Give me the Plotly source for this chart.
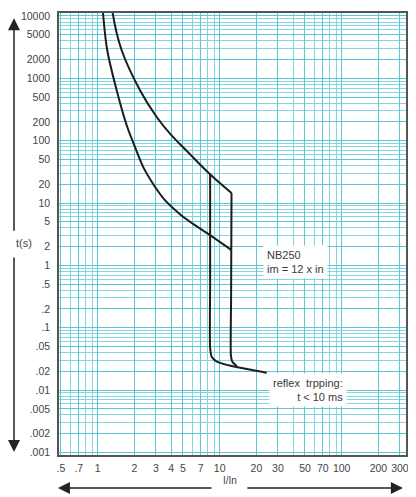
import plotly.graph_objects as go

# ---- data ----
x_tick_vals = [0.5, 0.7, 1, 2, 3, 4, 5, 7, 10, 20, 30, 50, 70, 100, 200, 300]
x_tick_text = [".5", ".7", "1", "2", "3", "4", "5", "7", "10", "20", "30", "50", "70", "100", "200", "300"]
y_tick_vals = [10000, 5000, 2000, 1000, 500, 200, 100, 50, 20, 10, 5, 2, 1,
               0.5, 0.2, 0.1, 0.05, 0.02, 0.01, 0.005, 0.002, 0.001]
y_tick_text = ["10000", "5000", "2000", "1000", "500", "200", "100", "50", "20", "10", "5", "2", "1",
               ".5", ".2", ".1", ".05", ".02", ".01", ".005", ".002", ".001"]

# lower thermal curve
low_I = [1.091, 1.105, 1.198, 1.431, 1.729, 2.021, 2.364, 2.856, 3.561, 4.727, 6.273, 8.33, 12.5]
low_t = [14830, 11170, 2818, 644, 177, 79.4, 37.6, 20.06, 11.11, 6.63, 4.416, 3.05, 1.755]
# upper thermal curve
up_I = [1.31, 1.327, 1.573, 2.222, 3.045, 3.914, 5.71, 8.33, 12.5]
up_t = [14830, 11170, 2818, 644, 240, 130, 60.7, 29.0, 14.5]
# right magnetic limit
right_I = [12.5, 12.4, 12.35, 12.7, 13.8]
right_t = [14.5, 0.3, 0.0365, 0.0284, 0.0243]
# left magnetic limit + reflex tail
left_I = [8.35, 8.35, 8.35, 8.60, 9.33, 10.38, 13.35, 24.28]
left_t = [29.0, 0.5, 0.0471, 0.0342, 0.0292, 0.0268, 0.02366, 0.01896]

# grid
x_minor = [d * m for d in (0.1, 1, 10, 100) for m in range(1, 10)]
x_minor = [v for v in x_minor if 0.45 <= v <= 340]
y_minor = [d * m for d in (0.001, 0.01, 0.1, 1, 10, 100, 1000, 10000) for m in range(1, 10)]

LINE = "#1c1c1c"
fig = go.Figure()
for xs, ys, sm in [(low_I, low_t, 1.0), (up_I, up_t, 1.0),
                   (right_I, right_t, 0.5), (left_I, left_t, 0.6)]:
    fig.add_trace(go.Scatter(x=xs, y=ys, mode="lines",
                             line=dict(color=LINE, width=2, shape="spline", smoothing=sm),
                             hoverinfo="skip", showlegend=False))

tickfont = dict(family="Liberation Sans, Arial, sans-serif", size=10.5, color="#444")
# the page body adds an 8px offset, so the figure is laid out 8px smaller
fig.update_layout(
    width=408, height=489, autosize=False,
    margin=dict(l=51, r=10, t=5, b=42),
    paper_bgcolor="white", plot_bgcolor="white",
    font=dict(family="Liberation Sans, Arial, sans-serif", color="#444"),
    xaxis=dict(type="log", range=[-0.317, 2.527],
               tickvals=x_tick_vals, ticktext=x_tick_text, tickfont=tickfont,
               ticks="", ticklabelstandoff=3, automargin=False,
               showgrid=True, gridcolor="#5cc6d4", gridwidth=1,
               minor=dict(tickvals=x_minor, showgrid=True, gridcolor="#86d6e0", gridwidth=1, ticks=""),
               showline=True, mirror=True, linecolor="#555", linewidth=1.5, zeroline=False),
    yaxis=dict(type="log", range=[-3.041, 4.048],
               tickvals=y_tick_vals, ticktext=y_tick_text, tickfont=tickfont,
               ticks="", ticklabelstandoff=5, automargin=False,
               showgrid=True, gridcolor="#5cc6d4", gridwidth=1,
               minor=dict(tickvals=y_minor, showgrid=True, gridcolor="#86d6e0", gridwidth=1, ticks=""),
               showline=True, mirror=True, linecolor="#555", linewidth=1.5, zeroline=False),
)

afont = dict(family="Liberation Sans, Arial, sans-serif", size=11, color="#3a3a3a")
anns = [
    dict(x=0.588, y=0.436, xref="paper", yref="paper", text="NB250<br>im = 12 x in",
         xanchor="left", yanchor="middle", align="left", showarrow=False,
         bgcolor="white", borderpad=3, font=afont),
    dict(x=0.830, y=0.147, xref="paper", yref="paper",
         text="reflex\u00a0 trpping:<br>t &lt; 10 ms",
         xanchor="right", yanchor="middle", align="right", showarrow=False,
         bgcolor="white", borderpad=3, font=afont),
    dict(x=-0.1297, y=0.479, xref="paper", yref="paper", text="t(s)", showarrow=False,
         font=dict(family="Liberation Sans, Arial, sans-serif", size=11, color="#444")),
    dict(x=0.493, y=-0.0746, xref="paper", yref="paper", text="I/In", showarrow=False,
         font=dict(family="Liberation Sans, Arial, sans-serif", size=10, color="#444")),
    # axis arrows
    dict(x=-0.1297, y=0.988, xref="paper", yref="paper", text="", showarrow=True,
         ax=0, ay=214, arrowhead=2, arrowsize=1.6, arrowwidth=1.5, arrowcolor="#222"),
    dict(x=-0.1297, y=0.0068, xref="paper", yref="paper", text="", showarrow=True,
         ax=0, ay=-196, arrowhead=2, arrowsize=1.6, arrowwidth=1.5, arrowcolor="#222"),
    dict(x=-0.003, y=-0.0746, xref="paper", yref="paper", text="", showarrow=True,
         ax=155, ay=0, arrowhead=2, arrowsize=1.6, arrowwidth=1.5, arrowcolor="#222"),
    dict(x=0.991, y=-0.0746, xref="paper", yref="paper", text="", showarrow=True,
         ax=-157, ay=0, arrowhead=2, arrowsize=1.6, arrowwidth=1.5, arrowcolor="#222"),
]
fig.update_layout(annotations=anns)

fig.write_html("out.html")
